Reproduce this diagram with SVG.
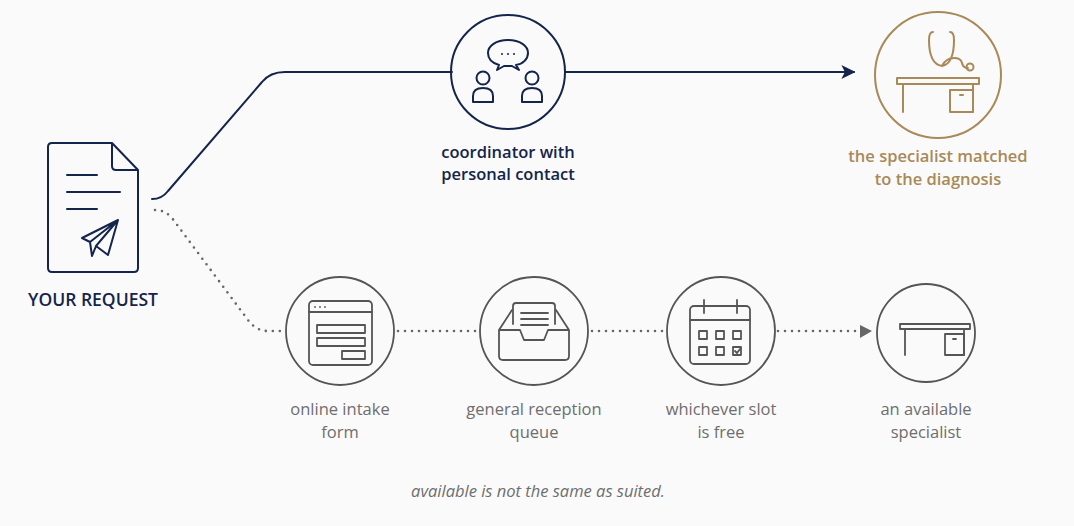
<svg xmlns="http://www.w3.org/2000/svg" width="1074" height="526" viewBox="0 0 1074 526">
<defs>
<style>
.navy{fill:none;stroke:#14244a;stroke-width:2;stroke-linecap:round;stroke-linejoin:round}
.gold{fill:none;stroke:#a88a58;stroke-width:2;stroke-linecap:round;stroke-linejoin:round}
.grey{fill:none;stroke:#555;stroke-width:1.8;stroke-linecap:round;stroke-linejoin:round}
.dot{fill:none;stroke:#666;stroke-width:2.6;stroke-linecap:round;stroke-dasharray:0 7}
text{font-family:"Open Sans","Noto Sans",sans-serif;font-size:16.5px;text-anchor:middle}
.tn{fill:#14244a;font-weight:600}
.tg{fill:#a88a58;font-weight:600}
.tgr{fill:#6e6e6e;font-weight:500}
</style>
<marker id="an" viewBox="0 0 10 10" refX="9" refY="5" markerWidth="14" markerHeight="14" markerUnits="userSpaceOnUse" orient="auto"><path d="M0,0 L10,5 L0,10 L2.5,5z" fill="#14244a"/></marker>
</defs>
<rect width="1074" height="526" fill="#fafafa"/>
<g id="connectors">
<path class="navy" stroke-width="2.4" d="M152,199 Q162,199 168,191 L262,82 Q270,72 285,72 L452,72"/>
<path class="navy" stroke-width="2.4" d="M565,72 L854,72" marker-end="url(#an)"/>
<path class="dot" d="M155,210 Q165,210 172,218 L248,320 Q256,331 268,331 L285,331"/>
<path class="dot" d="M398,331 L480,331"/>
<path class="dot" d="M592,331 L665,331"/>
<path class="dot" d="M778,331 L860,331"/>
<path d="M860,325 L872,331 L860,338z" fill="#666"/>
</g>
<g id="request">
<path class="navy" d="M52,143 H112 L138,170 V268 Q138,272 134,272 H52 Q48,272 48,268 V147 Q48,143 52,143z M112,143 V166 Q112,170 116,170 H138"/>
<path class="navy" d="M67,175 H97 M67,192 H120 M67,209 H97"/>
<path class="navy" d="M82,238 L118,220 L108,255 L96,246 L92,256 L90,242 Z M90,242 L118,220 M96,246 L118,220"/>
<text class="tn" x="93" y="306" style="font-size:17.5px">YOUR REQUEST</text>
</g>
<g id="coordinator">
<circle class="navy" cx="508" cy="72" r="57"/>
<path class="navy" d="M508,40 c12,0 20,6 20,13 c0,6 -5,11 -12,12 l3,5 l-7,-4 h-8 l-7,4 l2,-5 c-7,-2 -11,-6 -11,-12 c0,-7 8,-13 20,-13z"/>
<circle cx="502" cy="54" r="1" fill="#14244a"/><circle cx="508" cy="54" r="1" fill="#14244a"/><circle cx="514" cy="54" r="1" fill="#14244a"/>
<circle class="navy" cx="483" cy="78" r="6.5"/>
<path class="navy" d="M473,102 V96 Q473,88 483,88 Q493,88 493,96 V102 Z"/>
<circle class="navy" cx="532" cy="78" r="6.5"/>
<path class="navy" d="M522,102 V96 Q522,88 532,88 Q542,88 542,96 V102 Z"/>
<text class="tn" x="508" y="158">coordinator with</text>
<text class="tn" x="508" y="180">personal contact</text>
</g>
<g id="specialist">
<circle class="gold" cx="938" cy="75" r="63"/>
<rect class="gold" x="897" y="78" width="82" height="6"/>
<path class="gold" d="M903,84 V112 M973,84 V112"/>
<rect class="gold" x="950" y="90" width="23" height="22"/>
<path class="gold" d="M960,95 h3"/>
<path class="gold" d="M933,32 Q929,32 929,40 Q929,64 942,66 Q954,64 954,40 Q954,32 950,32 M942,66 Q946,58 954,58 Q961,58 962,63 Q963,68 968,68"/>
<circle class="gold" cx="970" cy="67" r="3.5"/>
<text class="tg" x="938" y="162">the specialist matched</text>
<text class="tg" x="938" y="185">to the diagnosis</text>
</g>
<g id="form">
<circle class="grey" cx="340" cy="331" r="54"/>
<rect class="grey" x="309" y="301" width="63" height="64" rx="4"/>
<path class="grey" d="M309,312 H372"/>
<circle cx="315" cy="307" r="0.9" fill="#555"/><circle cx="320" cy="307" r="0.9" fill="#555"/><circle cx="325" cy="307" r="0.9" fill="#555"/>
<rect class="grey" x="317" y="325" width="48" height="8"/>
<rect class="grey" x="317" y="338" width="48" height="8"/>
<rect class="grey" x="342" y="351" width="23" height="8"/>
<text class="tgr" x="340" y="415">online intake</text>
<text class="tgr" x="340" y="438">form</text>
</g>
<g id="queue">
<circle class="grey" cx="534" cy="331" r="54"/>
<path class="grey" d="M513,324 V306 Q513,303 516,303 H552 Q555,303 555,306 V324"/>
<path class="grey" d="M521,313 H548 M521,319 H548 M521,325 H548"/>
<path class="grey" d="M499,330 V356 Q499,360 503,360 H565 Q569,360 569,356 V330 M499,330 L512,310 M569,330 L556,310 M499,330 H520 L524,340 H544 L548,330 H569"/>
<text class="tgr" x="534" y="415">general reception</text>
<text class="tgr" x="534" y="438">queue</text>
</g>
<g id="slot">
<circle class="grey" cx="721" cy="331" r="54"/>
<rect class="grey" x="690" y="306" width="60" height="58" rx="4"/>
<path class="grey" d="M690,320 H750 M704,300 V313 M737,300 V313"/>
<rect class="grey" x="699" y="331" width="8" height="8"/><rect class="grey" x="716" y="331" width="8" height="8"/><rect class="grey" x="733" y="331" width="8" height="8"/>
<rect class="grey" x="699" y="347" width="8" height="8"/><rect class="grey" x="716" y="347" width="8" height="8"/><rect class="grey" x="733" y="347" width="8" height="8"/>
<path class="grey" stroke-width="1.2" d="M735,351 l2,2 l3,-4"/>
<text class="tgr" x="721" y="415">whichever slot</text>
<text class="tgr" x="721" y="438">is free</text>
</g>
<g id="available">
<circle class="grey" cx="926" cy="333" r="49"/>
<rect class="grey" x="900" y="324" width="70" height="5"/>
<path class="grey" d="M905,329 V355 M964,329 V355"/>
<rect class="grey" x="945" y="334" width="19" height="21"/>
<path class="grey" d="M953,339 h3"/>
<text class="tgr" x="926" y="415">an available</text>
<text class="tgr" x="926" y="438">specialist</text>
</g>
<text x="538" y="497" style="font-style:italic;fill:#6e6e6e;font-size:16.5px">available is not the same as suited.</text>
</svg>
